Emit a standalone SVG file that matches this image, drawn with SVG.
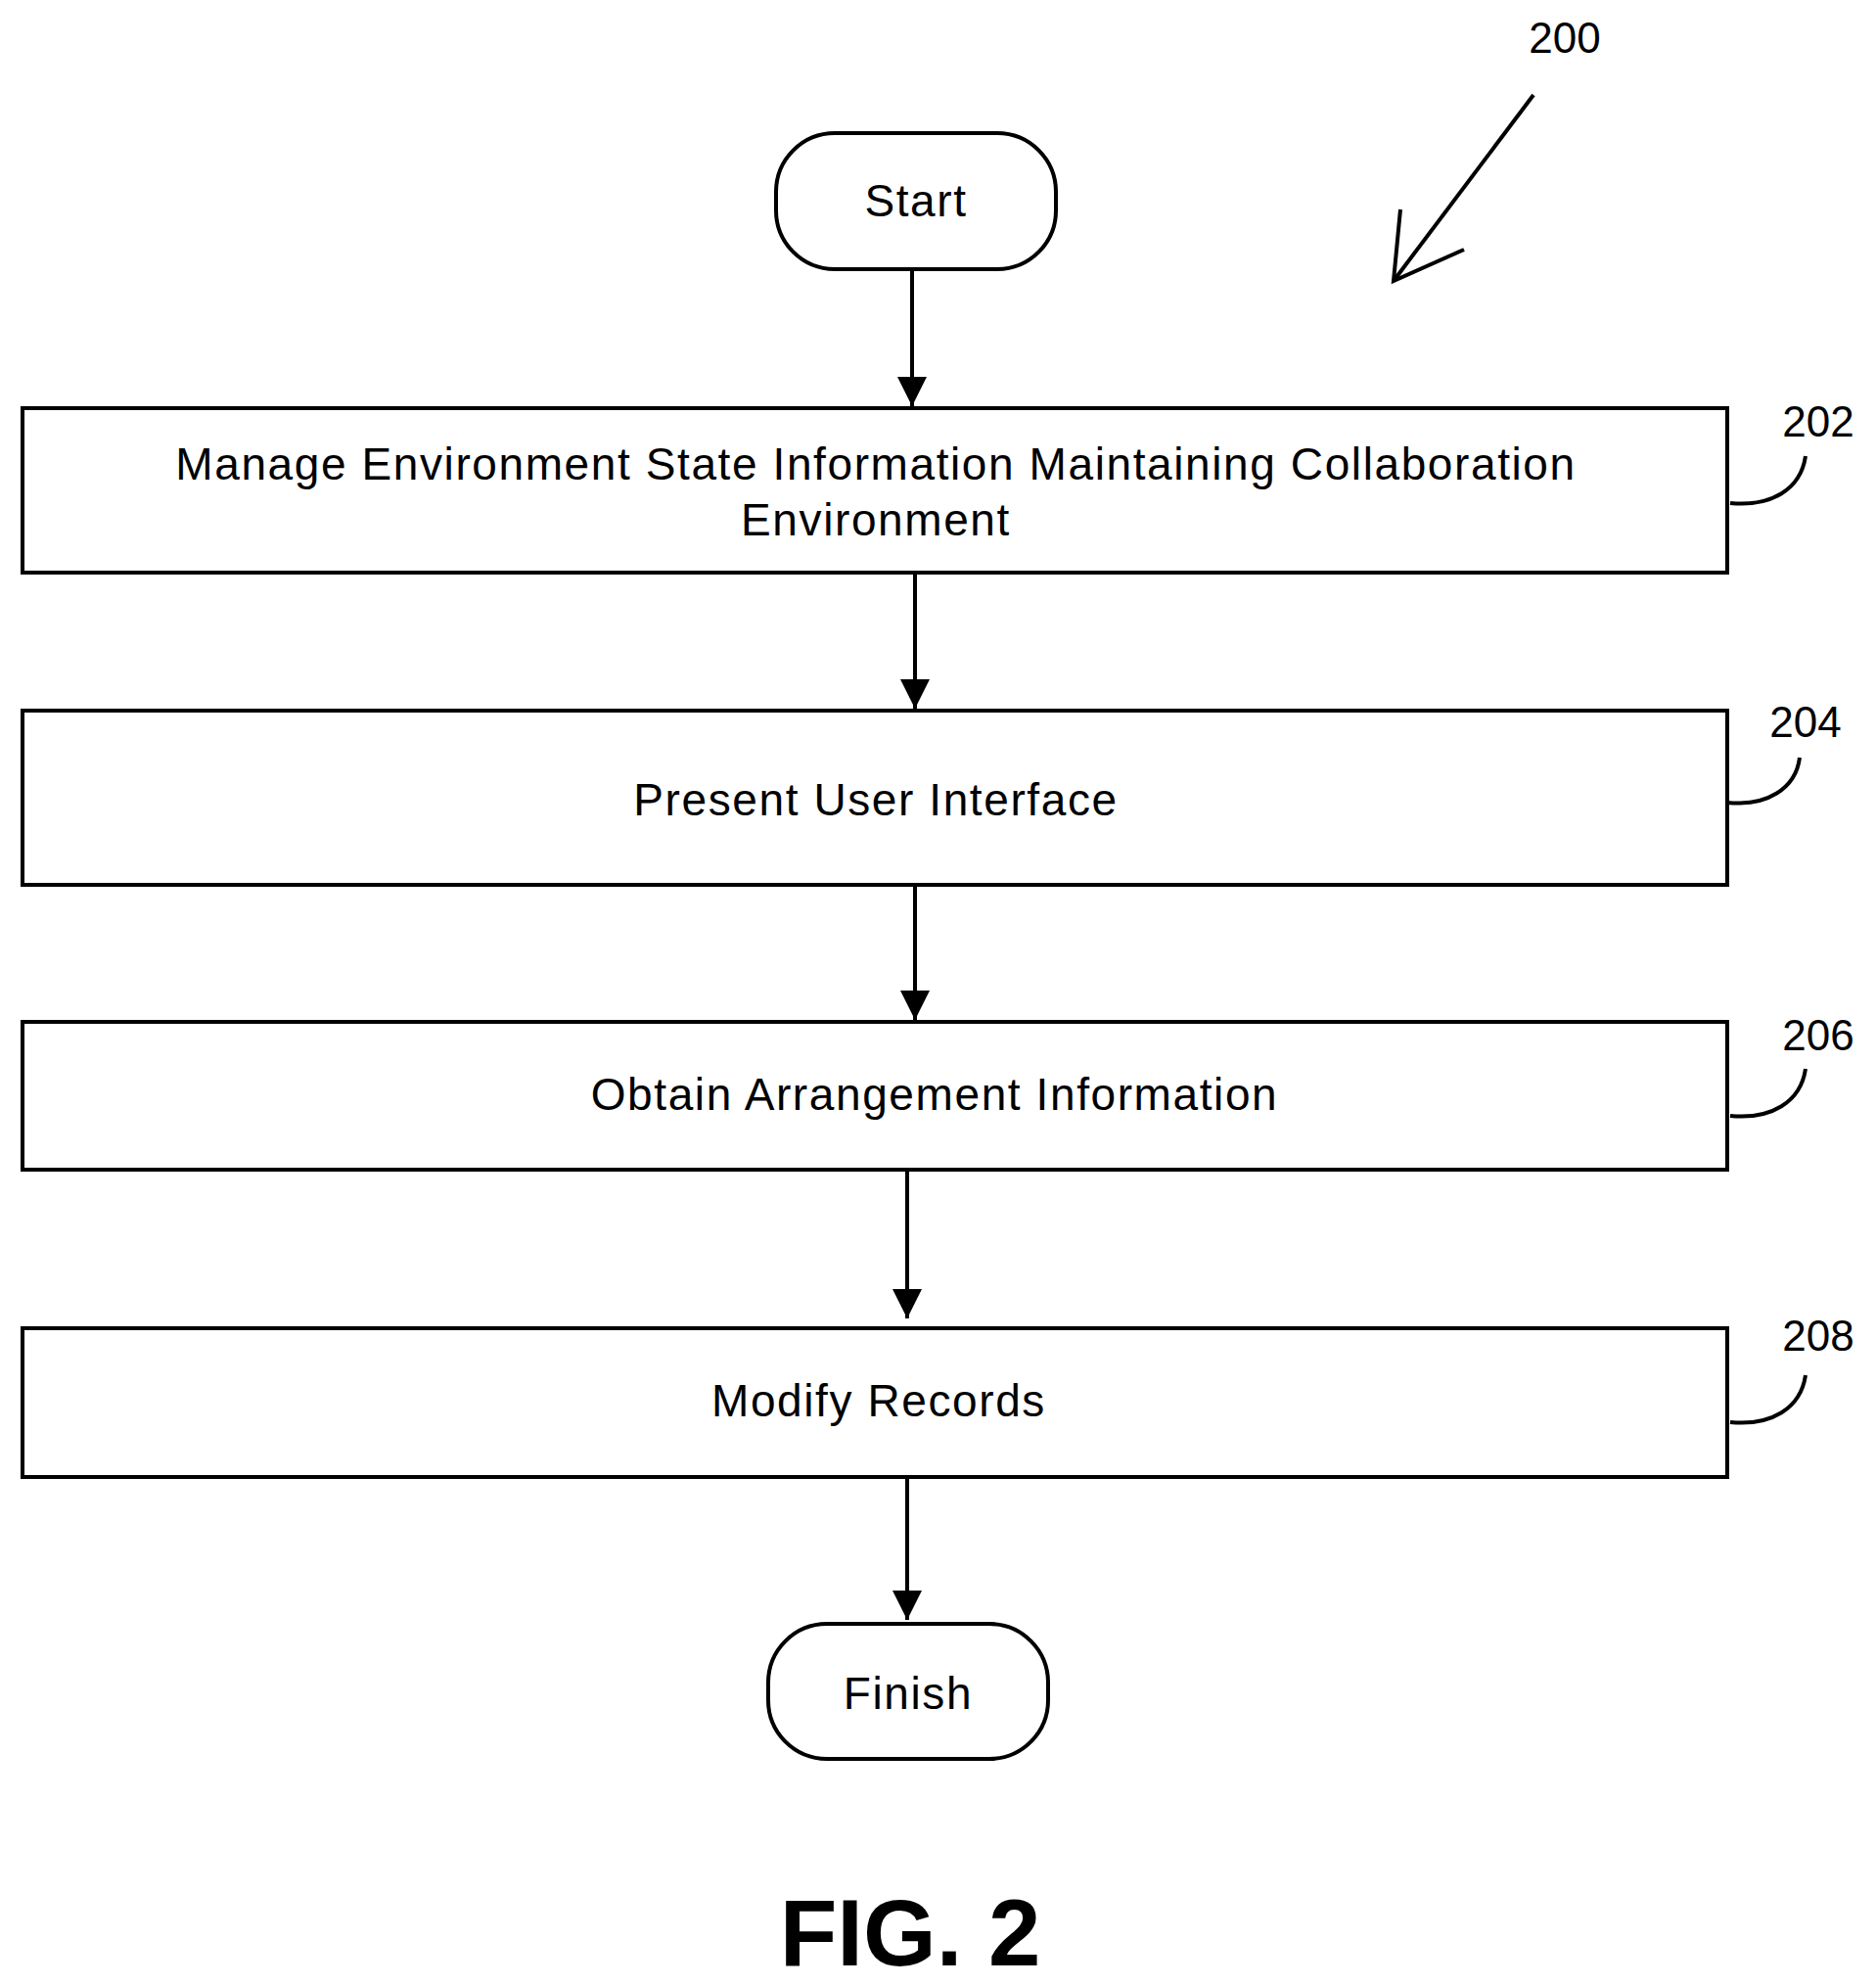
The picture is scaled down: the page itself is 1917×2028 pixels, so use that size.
<svg xmlns="http://www.w3.org/2000/svg" width="1917" height="2028" viewBox="0 0 1917 2028">
<style>
.b{fill:#fff;stroke:#000;stroke-width:4}
.t{font-family:"Liberation Sans",Arial,sans-serif;font-size:46px;letter-spacing:1.6px;text-anchor:middle;fill:#000}
.r{font-family:"Liberation Sans",Arial,sans-serif;font-size:44px;text-anchor:middle;fill:#000}
.c{fill:none;stroke:#000;stroke-width:4}
</style>
<defs>
<marker id="h" viewBox="0 0 10 10" refX="10" refY="5" markerWidth="30" markerHeight="30" orient="auto" markerUnits="userSpaceOnUse"><path d="M0,0 L10,5 L0,10 z"/></marker></defs>
<g id="start"><rect class="b" x="793" y="136" width="286" height="139" rx="60"/><text class="t" x="936" y="221">Start</text></g>
<g id="n202"><rect class="b" x="23" y="417" width="1742" height="168"/><text class="t" x="895" y="490">Manage Environment State Information Maintaining Collaboration</text><text class="t" x="895" y="547">Environment</text></g>
<g id="n204"><rect class="b" x="23" y="726" width="1742" height="178"/><text class="t" x="895" y="833">Present User Interface</text></g>
<g id="n206"><rect class="b" x="23" y="1044" width="1742" height="151"/><text class="t" x="955" y="1134">Obtain Arrangement Information</text></g>
<g id="n208"><rect class="b" x="23" y="1357" width="1742" height="152"/><text class="t" x="898" y="1447">Modify Records</text></g>
<g id="finish"><rect class="b" x="785" y="1659" width="286" height="138" rx="60"/><text class="t" x="928" y="1746">Finish</text></g>
<g id="connectors">
<line class="c" x1="932" y1="275" x2="932" y2="415" marker-end="url(#h)"/>
<line class="c" x1="935" y1="585" x2="935" y2="724" marker-end="url(#h)"/>
<line class="c" x1="935" y1="904" x2="935" y2="1042" marker-end="url(#h)"/>
<line class="c" x1="927" y1="1195" x2="927" y2="1347" marker-end="url(#h)"/>
<line class="c" x1="927" y1="1509" x2="927" y2="1655" marker-end="url(#h)"/>
<path class="c" d="M1768,514 C1810,518 1840,500 1845,466"/>
<path class="c" d="M1765,820 C1805,824 1835,806 1839,774"/>
<path class="c" d="M1768,1140 C1810,1144 1840,1126 1845,1092"/>
<path class="c" d="M1768,1453 C1810,1457 1840,1439 1845,1405"/>
<line class="c" x1="1567" y1="97" x2="1424" y2="287"/>
<polyline class="c" points="1431,214 1424,287 1496,255"/>
</g>
<g id="refs">
<text class="r" x="1858" y="446">202</text>
<text class="r" x="1845" y="753">204</text>
<text class="r" x="1858" y="1073">206</text>
<text class="r" x="1858" y="1380">208</text>
<text class="r" x="1599" y="54">200</text>
<text x="930" y="2008" style="font-family:'Liberation Sans',Arial,sans-serif;font-size:96px;font-weight:bold;text-anchor:middle">FIG. 2</text>
</g>
</svg>
